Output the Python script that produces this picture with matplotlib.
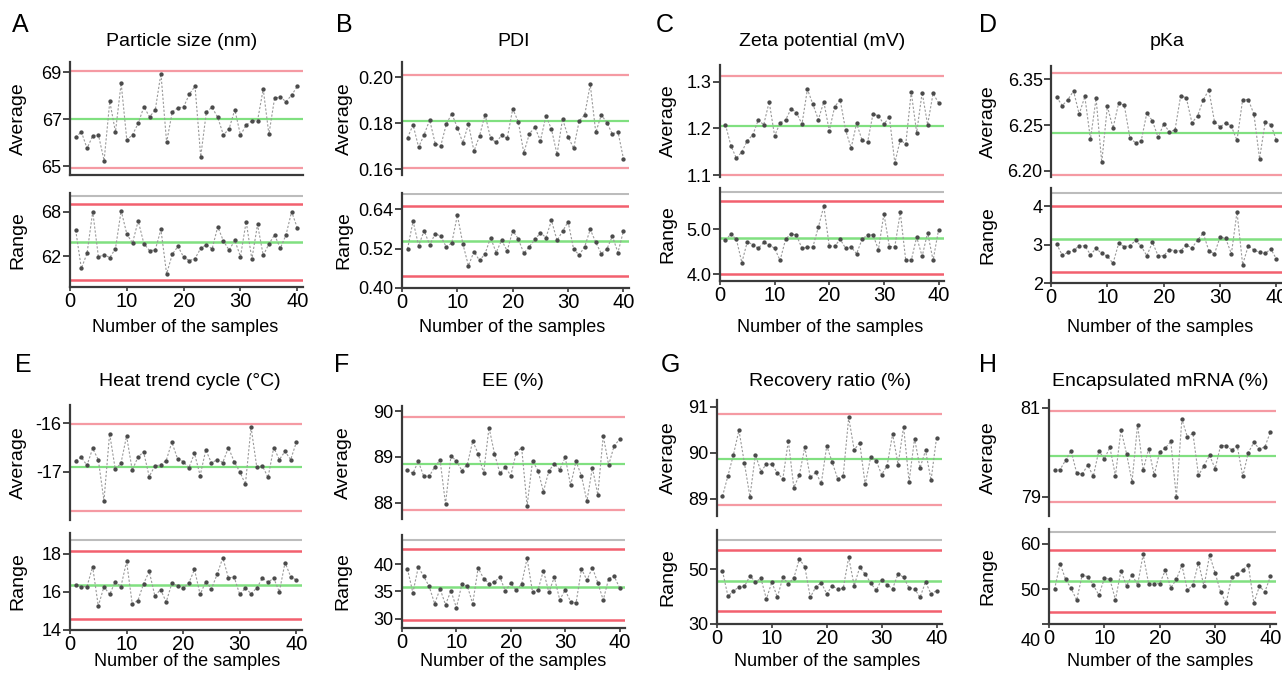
import numpy as np
import matplotlib
matplotlib.use("Agg")
import matplotlib.pyplot as plt
import matplotlib.transforms as mtransforms

plt.rcParams['font.family'] = ['Liberation Sans', 'DejaVu Sans']

samples = np.arange(1, 41)

# ---- A: particle size ----
particle_avg = [66.22, 66.46, 65.75, 66.29, 66.33, 65.23, 67.75, 66.45, 68.53, 66.11,
                66.33, 66.82, 67.52, 67.10, 67.38, 68.94, 66.01, 67.31, 67.48, 67.52,
                68.06, 68.40, 65.40, 67.31, 67.50, 67.07, 66.32, 66.59, 67.40, 66.32,
                66.74, 66.93, 66.93, 68.28, 66.35, 67.89, 67.94, 67.74, 68.02, 68.39]
particle_rng = [65.51, 60.36, 62.40, 68.00, 61.91, 62.22, 61.82, 63.02, 68.13, 64.98,
                63.78, 66.76, 63.69, 62.76, 62.84, 65.60, 59.64, 62.27, 63.33, 61.87,
                61.42, 61.69, 63.07, 63.56, 62.98, 65.96, 64.04, 62.84, 64.13, 61.96,
                66.67, 61.60, 66.27, 62.13, 63.64, 64.89, 63.07, 64.84, 68.00, 65.78]

# ---- B: PDI ----
pdi_avg = [0.1737, 0.1793, 0.1696, 0.1751, 0.1814, 0.1712, 0.1702, 0.1796, 0.1842, 0.1780,
           0.1715, 0.1797, 0.1679, 0.1745, 0.1837, 0.1735, 0.1717, 0.1748, 0.1735, 0.1862,
           0.1807, 0.1672, 0.1754, 0.1783, 0.1724, 0.1832, 0.1774, 0.1665, 0.1819, 0.1742,
           0.1691, 0.1810, 0.1836, 0.1968, 0.1760, 0.1836, 0.1803, 0.1753, 0.1764, 0.1646]
pdi_rng = [0.519, 0.604, 0.529, 0.575, 0.531, 0.566, 0.558, 0.525, 0.538, 0.622,
           0.534, 0.468, 0.511, 0.484, 0.504, 0.554, 0.508, 0.546, 0.513, 0.575,
           0.550, 0.506, 0.526, 0.548, 0.568, 0.554, 0.606, 0.545, 0.573, 0.602,
           0.518, 0.501, 0.526, 0.579, 0.539, 0.505, 0.519, 0.558, 0.508, 0.574]

# ---- C: zeta potential ----
zeta_avg = [1.208, 1.163, 1.136, 1.150, 1.174, 1.186, 1.218, 1.208, 1.257, 1.184,
            1.212, 1.218, 1.242, 1.234, 1.209, 1.284, 1.252, 1.219, 1.257, 1.195,
            1.247, 1.261, 1.196, 1.158, 1.211, 1.175, 1.170, 1.231, 1.227, 1.209,
            1.225, 1.126, 1.176, 1.166, 1.278, 1.191, 1.277, 1.208, 1.275, 1.255]
zeta_rng = [4.76, 4.90, 4.78, 4.26, 4.73, 4.66, 4.58, 4.71, 4.66, 4.58,
            4.31, 4.78, 4.91, 4.87, 4.58, 4.60, 4.61, 5.05, 5.52, 4.63,
            4.63, 4.78, 4.58, 4.61, 4.46, 4.78, 4.88, 4.88, 4.55, 5.35,
            4.62, 4.62, 5.38, 4.31, 4.31, 4.83, 4.40, 4.93, 4.31, 4.99]

# ---- D: pKa ----
pka_avg = [6.321, 6.307, 6.317, 6.331, 6.293, 6.322, 6.252, 6.319, 6.214, 6.306,
           6.270, 6.311, 6.308, 6.254, 6.246, 6.249, 6.295, 6.282, 6.255, 6.277,
           6.264, 6.267, 6.323, 6.320, 6.279, 6.290, 6.316, 6.333, 6.281, 6.272,
           6.279, 6.273, 6.250, 6.317, 6.317, 6.293, 6.220, 6.280, 6.276, 6.250]
pka_rng = [3.02, 2.72, 2.80, 2.85, 2.97, 2.97, 2.74, 2.90, 2.77, 2.70,
           2.51, 3.03, 2.95, 2.97, 3.11, 2.96, 2.71, 3.06, 2.71, 2.71,
           2.87, 2.84, 2.84, 2.99, 2.91, 3.12, 3.30, 2.84, 2.76, 3.20,
           3.16, 2.76, 3.85, 2.48, 2.97, 2.86, 2.80, 2.77, 2.89, 2.62]

# ---- E: heat trend cycle ----
heat_avg = [-16.77, -16.70, -16.87, -16.52, -16.75, -17.60, -16.21, -16.95, -16.83, -16.26,
            -16.97, -16.70, -16.59, -17.10, -16.88, -16.86, -16.77, -16.39, -16.73, -16.79,
            -16.92, -16.62, -17.08, -16.55, -16.82, -16.75, -16.81, -16.50, -16.79, -17.00,
            -17.26, -16.08, -16.90, -16.88, -17.12, -16.50, -16.75, -16.58, -16.75, -16.39]
heat_rng = [16.37, 16.27, 16.27, 17.32, 15.25, 16.27, 15.86, 16.53, 16.27, 17.59,
            15.37, 15.54, 16.42, 17.07, 15.78, 16.12, 15.47, 16.44, 16.31, 16.19,
            16.46, 17.17, 15.86, 16.54, 16.15, 16.92, 17.78, 16.73, 16.78, 15.86,
            16.20, 15.90, 16.20, 16.71, 16.51, 16.71, 16.00, 17.53, 16.80, 16.61]

# ---- F: EE ----
ee_avg = [88.71, 88.64, 88.90, 88.57, 88.57, 88.78, 88.93, 87.97, 89.02, 88.91,
          88.70, 88.83, 89.34, 89.07, 88.64, 89.64, 89.07, 88.64, 88.77, 88.59,
          89.09, 89.20, 87.93, 88.91, 88.70, 88.24, 88.69, 88.85, 88.72, 88.99,
          88.38, 88.90, 88.58, 88.03, 88.76, 88.17, 89.46, 88.82, 89.24, 89.38]
ee_rng = [39.12, 34.76, 39.48, 37.73, 35.91, 32.76, 35.48, 32.58, 35.12, 32.03,
          36.27, 36.03, 32.76, 39.30, 37.36, 36.45, 36.76, 37.61, 35.06, 36.52,
          35.18, 36.39, 41.06, 34.88, 35.24, 38.82, 34.82, 37.61, 33.48, 35.24,
          33.12, 32.88, 39.12, 37.06, 39.36, 36.58, 33.42, 37.36, 37.79, 35.67]

# ---- G: recovery ratio ----
rec_avg = [89.05, 89.50, 89.96, 90.49, 89.77, 89.04, 89.96, 89.59, 89.75, 89.75,
           89.56, 89.43, 90.26, 89.24, 89.51, 90.12, 89.46, 89.57, 89.33, 90.15,
           89.79, 89.43, 89.50, 90.77, 90.06, 90.22, 89.31, 89.90, 89.83, 89.52,
           89.72, 90.41, 89.74, 90.57, 89.37, 90.31, 89.67, 90.05, 89.40, 90.32]
rec_rng = [49.39, 40.12, 42.07, 43.54, 43.78, 47.56, 45.37, 46.71, 39.15, 45.37,
           39.76, 47.07, 44.76, 46.83, 53.78, 50.98, 39.76, 43.54, 45.12, 40.98,
           44.02, 42.68, 43.05, 54.39, 44.02, 50.73, 48.29, 45.00, 42.32, 46.22,
           44.27, 42.93, 48.41, 47.07, 43.17, 42.93, 39.76, 45.37, 40.98, 42.20]

# ---- H: encapsulated mRNA ----
mrna_avg = [79.61, 79.61, 79.82, 80.03, 79.53, 79.51, 79.71, 79.46, 80.03, 79.85,
            80.11, 79.47, 80.50, 79.97, 79.34, 80.62, 79.60, 80.08, 79.49, 80.01,
            80.09, 80.24, 78.99, 80.74, 80.34, 80.42, 79.48, 79.70, 79.93, 79.63,
            80.15, 80.15, 80.05, 80.14, 79.46, 79.99, 80.22, 80.07, 80.12, 80.46]
mrna_rng = [50.00, 55.65, 52.16, 50.22, 47.62, 53.20, 52.75, 50.97, 48.74, 52.38,
            52.23, 47.70, 54.09, 50.74, 53.20, 50.97, 57.66, 51.19, 51.19, 51.26,
            54.16, 50.37, 52.16, 55.28, 49.85, 50.97, 55.87, 50.67, 57.51, 53.64,
            49.41, 47.03, 52.68, 53.27, 54.31, 55.28, 47.03, 50.67, 49.48, 52.83]

titles = ["Particle size (nm)", "PDI", "Zeta potential (mV)", "pKa",
          "Heat trend cycle (°C)", "EE (%)", "Recovery ratio (%)", "Encapsulated mRNA (%)"]
letters = list("ABCDEFGH")

# control limits: (upper red, centre, lower red) for average; (gray, red, centre, red) for range
avg_limits = [(69.06, 67.0, 64.9), (0.2007, 0.181, 0.1607), (1.3118, 1.205, 1.10),
              (6.361, 6.2624, 6.1934), (-16.007, -16.91, -17.82), (89.87, 88.84, 87.83),
              (90.84, 89.86, 88.87), (80.93, 79.91, 78.88)]
rng_limits = [(70.04, 68.98, 63.91, 58.84), (0.6878, 0.6492, 0.5434, 0.4376),
              (5.828, 5.642, 4.813, 4.0), (4.354, 4.0, 3.157, 2.275),
              (18.69, 18.12, 16.37, 14.59), (44.39, 42.70, 35.79, 29.85),
              (60.73, 57.07, 45.85, 34.88), (62.57, 58.62, 51.93, 45.09)]

W, H = 1282, 674
fig = plt.figure(figsize=(W / 100, H / 100), dpi=100)

# pixel boxes: left, right, upper top, upper bottom, lower top, lower bottom
boxes = [(70, 303, 62, 175, 193, 287), (402, 629, 62, 175, 193, 288),
         (720, 944, 65, 177, 188, 281), (1051, 1290, 66, 177, 188, 283),
         (70, 302, 405, 520, 533, 630), (402, 625, 406, 519, 535, 628),
         (717, 942, 400, 516, 530, 624), (1049, 1276, 400, 516, 529, 624)]
xmax = [41, 41, 41, 42.4, 41, 41, 41, 41]
avg_ylim = [(64.62, 69.43), (0.1576, 0.2065), (1.096, 1.336), (6.190, 6.372),
            (-18.0, -15.62), (87.64, 90.11), (88.62, 91.15), (78.57, 81.17)]
rng_ylim = [(57.87, 70.5), (0.40, 0.6898), (3.851, 5.925), (2.0, 4.476),
            (14.0, 19.08), (28.33, 45.3), (30, 64.39), (42.4, 63.23)]
avg_ticks = [([65, 67, 69], ["65", "67", "69"]),
             ([0.16, 0.18, 0.20], ["0.16", "0.18", "0.20"]),
             ([1.1, 1.2, 1.3], ["1.1", "1.2", "1.3"]),
             ([6.20, 6.275, 6.35], ["6.20", "6.25", "6.35"]),
             ([-17, -16], ["-17", "-16"]),
             ([88, 89, 90], ["88", "89", "90"]),
             ([89, 90, 91], ["89", "90", "91"]),
             ([79, 81], ["79", "81"])]
rng_ticks = [([62, 68], ["62", "68"]),
             ([0.40, 0.52, 0.64], ["0.40", "0.52", "0.64"]),
             ([4.0, 5.0], ["4.0", "5.0"]),
             ([2, 3, 4], ["2", "3", "4"]),
             ([14, 16, 18], ["14", "16", "18"]),
             ([30, 35, 40], ["30", "35", "40"]),
             ([30, 50], ["30", "50"]),
             ([42.4, 50, 60], ["", "50", "60"])]
title_x = [182, 514, 822, 1167, 190, 513, 830, 1160]
xlab_x = [185, 512, 830, 1160, 187, 513, 827, 1160]
ylab_x = [18, 344, 668, 988, 18, 343, 668, 988]
letter_x = [20, 344, 665, 988, 23, 342, 670, 988]

averages = [particle_avg, pdi_avg, zeta_avg, pka_avg, heat_avg, ee_avg, rec_avg, mrna_avg]
ranges = [particle_rng, pdi_rng, zeta_rng, pka_rng, heat_rng, ee_rng, rec_rng, mrna_rng]

RED_U = '#f59aa3'
RED_L = '#f2606e'
GREEN = '#80e080'
GRAY = '#bcbcbc'
SPINE = '#3a3a3a'


def add_ax(l, r, t, b):
    return fig.add_axes([l / W, 1 - b / H, (r - l) / W, (b - t) / H])


def style(ax, bottom):
    for s in ['top', 'right']:
        ax.spines[s].set_visible(False)
    ax.spines['left'].set_color(SPINE)
    ax.spines['left'].set_linewidth(1.6)
    ax.spines['bottom'].set_visible(bottom)
    ax.spines['bottom'].set_color(SPINE)
    ax.spines['bottom'].set_linewidth(1.6)
    ax.tick_params(axis='y', direction='out', length=5, width=1.3, color=SPINE,
                   labelsize=13, pad=1)
    ax.patch.set_alpha(0)


def series(ax, y):
    ax.plot(samples, y, color='#9a9a9a', lw=0.8, ls=(0, (2.0, 1.6)), zorder=3)
    ax.plot(samples, y, ls='none', marker='o', ms=2.1, color='#4a4a4a', zorder=4)


for i in range(8):
    l, r, ut, ub, lt, lb = boxes[i]
    row_y = 0 if i < 4 else 338

    # average chart
    ax1 = add_ax(l, r, ut, ub)
    style(ax1, bottom=(i == 0))
    ax1.set_xlim(0, xmax[i])
    ax1.set_ylim(*avg_ylim[i])
    ax1.set_yticks(avg_ticks[i][0], avg_ticks[i][1])
    ax1.set_xticks([])
    hi, mid, lo = avg_limits[i]
    ax1.axhline(hi, color=RED_U, lw=1.6, zorder=2)
    ax1.axhline(lo, color=RED_U, lw=1.6, zorder=2)
    ax1.axhline(mid, color=GREEN, lw=1.6, zorder=2)
    series(ax1, averages[i])

    # range chart
    ax2 = add_ax(l, r, lt, lb)
    style(ax2, bottom=True)
    ax2.set_xlim(0, xmax[i])
    ax2.set_ylim(*rng_ylim[i])
    ax2.set_yticks(rng_ticks[i][0], rng_ticks[i][1])
    ax2.set_xticks([0, 10, 20, 30, 40])
    ax2.tick_params(axis='x', direction='out', length=3, width=1.2, color=SPINE,
                    labelsize=14.5, pad=0.5)
    g, rh, c, rl = rng_limits[i]
    ax2.axhline(g, color=GRAY, lw=1.5, zorder=2)
    ax2.axhline(rh, color=RED_L, lw=1.8, zorder=2)
    ax2.axhline(rl, color=RED_L, lw=1.8, zorder=2)
    ax2.axhline(c, color=GREEN, lw=1.8, zorder=2)
    series(ax2, ranges[i])
    if i == 7:
        tr = mtransforms.blended_transform_factory(ax2.transAxes, ax2.transData)
        ax2.text(-0.035, 38.6, "40", transform=tr, ha='right', va='center',
                 fontsize=13, clip_on=False)

    # texts
    fig.text(letter_x[i] / W, 1 - (25 + row_y + (2 if i >= 4 else 0)) / H, letters[i],
             fontsize=18, ha='center', va='center')
    fig.text(title_x[i] / W, 1 - (42 + row_y) / H if i < 4 else 1 - 381 / H, titles[i],
             fontsize=14, ha='center', va='center')
    fig.text(ylab_x[i] / W, 1 - ((ut + ub) / 2) / H, "Average", rotation=90,
             fontsize=14, ha='center', va='center')
    fig.text(ylab_x[i] / W, 1 - ((lt + lb) / 2) / H, "Range", rotation=90,
             fontsize=14, ha='center', va='center')
    fig.text(xlab_x[i] / W, 1 - (328 if i < 4 else 662) / H, "Number of the samples",
             fontsize=13, ha='center', va='center')

fig.savefig("out.png", dpi=100)
